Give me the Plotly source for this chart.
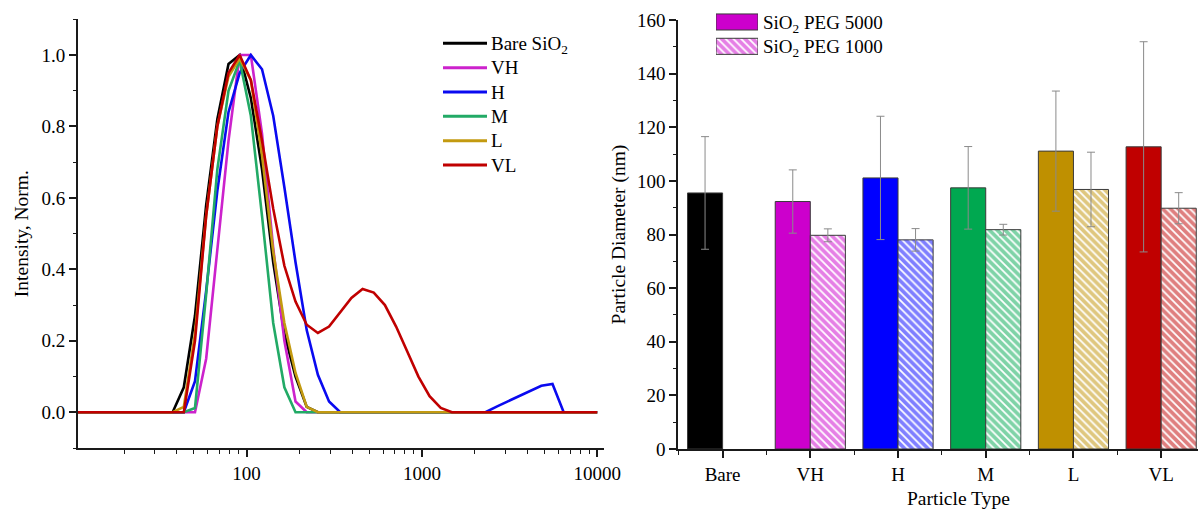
import plotly.graph_objects as go

# ---------------- Left panel: size distributions ----------------
diameter_nm = [10.1, 11.7, 13.54, 15.69, 18.17, 21.04, 24.36, 28.21, 32.67, 37.84,
               43.82, 50.75, 58.77, 68.06, 78.82, 91.28, 105.7, 122.4, 141.8, 164.2,
               190.1, 220.2, 255.0, 295.3, 342.0, 396.1, 458.7, 531.2, 615.1, 712.4,
               825.0, 955.4, 1106, 1281, 1484, 1718, 1990, 2305, 2669, 3091,
               3580, 4145, 4801, 5560, 6439, 7456, 8635, 10000]

bare = [0, 0, 0, 0, 0, 0, 0, 0, 0, 0,
        0.07, 0.27, 0.58, 0.82, 0.975, 1.0, 0.88, 0.68, 0.42, 0.22,
        0.10, 0.015, 0, 0, 0, 0, 0, 0, 0, 0,
        0, 0, 0, 0, 0, 0, 0, 0, 0, 0,
        0, 0, 0, 0, 0, 0, 0, 0]
vh = [0, 0, 0, 0, 0, 0, 0, 0, 0, 0,
      0, 0, 0.15, 0.45, 0.76, 1.0, 1.0, 0.78, 0.46, 0.20,
      0.03, 0, 0, 0, 0, 0, 0, 0, 0, 0,
      0, 0, 0, 0, 0, 0, 0, 0, 0, 0,
      0, 0, 0, 0, 0, 0, 0, 0]
h = [0, 0, 0, 0, 0, 0, 0, 0, 0, 0,
     0, 0.087, 0.34, 0.62, 0.84, 0.95, 1.0, 0.96, 0.83, 0.63,
     0.42, 0.23, 0.105, 0.03, 0, 0, 0, 0, 0, 0,
     0, 0, 0, 0, 0, 0, 0, 0, 0.016, 0.031,
     0.045, 0.06, 0.074, 0.079, 0, 0, 0, 0]
m = [0, 0, 0, 0, 0, 0, 0, 0, 0, 0,
     0, 0.012, 0.33, 0.68, 0.90, 0.985, 0.83, 0.55, 0.25, 0.07,
     0, 0, 0, 0, 0, 0, 0, 0, 0, 0,
     0, 0, 0, 0, 0, 0, 0, 0, 0, 0,
     0, 0, 0, 0, 0, 0, 0, 0]
l = [0, 0, 0, 0, 0, 0, 0, 0, 0, 0,
     0.015, 0.22, 0.55, 0.80, 0.94, 0.99, 0.93, 0.72, 0.45, 0.25,
     0.11, 0.015, 0, 0, 0, 0, 0, 0, 0, 0,
     0, 0, 0, 0, 0, 0, 0, 0, 0, 0,
     0, 0, 0, 0, 0, 0, 0, 0]
vl = [0, 0, 0, 0, 0, 0, 0, 0, 0, 0,
      0, 0.20, 0.55, 0.80, 0.95, 1.0, 0.93, 0.76, 0.57, 0.41,
      0.31, 0.245, 0.222, 0.24, 0.28, 0.32, 0.345, 0.335, 0.30, 0.24,
      0.17, 0.10, 0.045, 0.012, 0, 0, 0, 0, 0, 0,
      0, 0, 0, 0, 0, 0, 0, 0]

line_names = ["Bare SiO<sub>2</sub>", "VH", "H", "M", "L", "VL"]
line_colors = ["#000000", "#CC22CC", "#0A0AF0", "#22AA66", "#C39A10", "#C00000"]
line_series = [bare, vh, h, m, l, vl]
line_key_span = [0, 1]          # legend key: line spans the full key box

# ---------------- Right panel: mean diameters ----------------
categories = ["Bare", "VH", "H", "M", "L", "VL"]
peg5000 = [95.5, 92.3, 101.1, 97.4, 111.1, 112.7]
peg5000_err = [21.0, 11.8, 23.0, 15.4, 22.4, 39.2]
peg1000 = [None, 79.7, 78.0, 81.8, 96.8, 89.8]
peg1000_err = [None, 2.4, 4.2, 2.0, 13.9, 5.8]
bar_colors = ["#000000", "#CC00CC", "#0000FF", "#00A850", "#BF9000", "#C00000"]

# legend of the right panel (swatches drawn as full-width keys)
bar_legend_labels = ["SiO<sub>2</sub> PEG 5000", "SiO<sub>2</sub> PEG 1000"]
bar_legend_fill = [1]
bar_legend_color = "#CC00CC"

FONT = "Liberation Serif, Times New Roman, serif"
W, H = 1198, 509
ML, MR, MT, MB = 78, 0, 0, 60
PW, PH = W - ML - MR, H - MT - MB


def px_x(p):
    return (p - ML) / PW


def px_y(p):
    return (H - MB - p) / PH


fig = go.Figure()

for name, col, ys in zip(line_names, line_colors, line_series):
    fig.add_trace(go.Scatter(
        x=diameter_nm, y=ys, mode="lines", name=name, showlegend=False,
        line=dict(color=col, width=2.6), xaxis="x", yaxis="y"))

# legend keys of the left panel
for name, col in zip(line_names, line_colors):
    fig.add_trace(go.Scatter(
        x=line_key_span, y=[name] * len(line_key_span), mode="lines", showlegend=False,
        hoverinfo="skip", line=dict(color=col, width=3), xaxis="x4", yaxis="y4"))

xpos = list(range(len(categories)))
edge = "#3a3a3a"
hatch = dict(shape="\\", bgcolor="white", size=5.5, solidity=0.68, fillmode="overlay")

fig.add_trace(go.Bar(
    x=xpos, y=peg5000, name="SiO<sub>2</sub> PEG 5000", showlegend=False,
    offsetgroup="a", xaxis="x2", yaxis="y2",
    marker=dict(color=bar_colors, line=dict(color=edge, width=1)),
    error_y=dict(type="data", array=peg5000_err, color="#8a8a8a", thickness=1, width=4)))
fig.add_trace(go.Bar(
    x=xpos, y=peg1000, name="SiO<sub>2</sub> PEG 1000", showlegend=False,
    offsetgroup="b", xaxis="x2", yaxis="y2",
    marker=dict(color="white", line=dict(color=edge, width=1),
                pattern=dict(**hatch, fgcolor=bar_colors)),
    error_y=dict(type="data", array=peg1000_err, color="#8a8a8a", thickness=1, width=4)))

# legend swatches of the right panel
fig.add_trace(go.Bar(
    y=bar_legend_labels[:1], x=bar_legend_fill, orientation="h", showlegend=False,
    xaxis="x3", yaxis="y3", width=0.66, offsetgroup="k", hoverinfo="skip",
    marker=dict(color=bar_legend_color, line=dict(color=edge, width=1))))
fig.add_trace(go.Bar(
    y=bar_legend_labels[1:], x=bar_legend_fill, orientation="h", showlegend=False,
    xaxis="x3", yaxis="y3", width=0.66, offsetgroup="k", hoverinfo="skip",
    marker=dict(color="white", line=dict(color=edge, width=1),
                pattern=dict(**hatch, fgcolor=bar_legend_color))))

axis_common = dict(showgrid=False, zeroline=False, showline=True, linecolor="#1a1a1a",
                   linewidth=2, ticks="outside", ticklen=7, tickwidth=1.5, tickcolor="#1a1a1a",
                   tickfont=dict(family=FONT, size=19, color="#000"), automargin=False)
minor_common = dict(ticks="outside", ticklen=3.5, tickwidth=1.2, tickcolor="#1a1a1a")
key_axis = dict(showline=False, showgrid=False, zeroline=False, ticks="",
                automargin=False, tickfont=dict(family=FONT, size=19, color="#000"))

fig.update_layout(
    width=W, height=H,
    margin=dict(l=ML, r=MR, t=MT, b=MB, autoexpand=False),
    paper_bgcolor="white", plot_bgcolor="rgba(0,0,0,0)",
    font=dict(family=FONT, size=19, color="#000"),
    barmode="group", bargap=0.2, bargroupgap=0,
    showlegend=False,
    xaxis=dict(**axis_common, type="log", domain=[px_x(78), px_x(603.5)],
               range=[1.038, 4.036], tickvals=[100, 1000, 10000],
               ticktext=["100", "1000", "10000"], anchor="y",
               minor=dict(**minor_common,
                          tickvals=[20, 30, 40, 50, 60, 70, 80, 90,
                                    200, 300, 400, 500, 600, 700, 800, 900,
                                    2000, 3000, 4000, 5000, 6000, 7000, 8000, 9000])),
    yaxis=dict(**axis_common, domain=[px_y(448), px_y(19.3)], range=[-0.1, 1.1],
               tickvals=[0, 0.2, 0.4, 0.6, 0.8, 1.0],
               ticktext=["0.0", "0.2", "0.4", "0.6", "0.8", "1.0"],
               anchor="x", minor=dict(**minor_common, dtick=0.1, tick0=0),
               title=dict(text="Intensity, Norm.", font=dict(family=FONT, size=19.5),
                          standoff=8)),
    xaxis2=dict(**axis_common, domain=[px_x(678.3), 1.0], range=[-0.505, 5.42],
                tickvals=xpos, ticktext=categories, anchor="y2",
                minor=dict(**minor_common, dtick=0.5, tick0=0.5)),
    yaxis2=dict(**axis_common, domain=[0, px_y(20)], range=[0, 160],
                dtick=20, anchor="x2", minor=dict(**minor_common, dtick=10),
                title=dict(text="Particle Diameter (nm)", font=dict(family=FONT, size=19.5),
                           standoff=6)),
    xaxis3=dict(domain=[px_x(716), px_x(758)], range=[0, 1], visible=False,
                anchor="y3", automargin=False),
    yaxis3=dict(**key_axis, domain=[px_y(58.5), px_y(9.8)], type="category",
                categoryorder="array", categoryarray=bar_legend_labels,
                range=[1.5, -0.5], anchor="x3", side="right", ticklabelstandoff=4),
    xaxis4=dict(domain=[px_x(443), px_x(487)], range=[0, 1], visible=False,
                anchor="y4", automargin=False),
    yaxis4=dict(**key_axis, domain=[px_y(177.2), px_y(31.1)], type="category",
                range=[5.5, -0.5], anchor="x4", side="right", ticklabelstandoff=3),
    annotations=[dict(text="Particle Type", x=px_x(958), y=px_y(498), xref="paper",
                      yref="paper", showarrow=False, xanchor="center", yanchor="middle",
                      font=dict(family=FONT, size=19.5, color="#000"))],
)

fig.write_html("out.html")
